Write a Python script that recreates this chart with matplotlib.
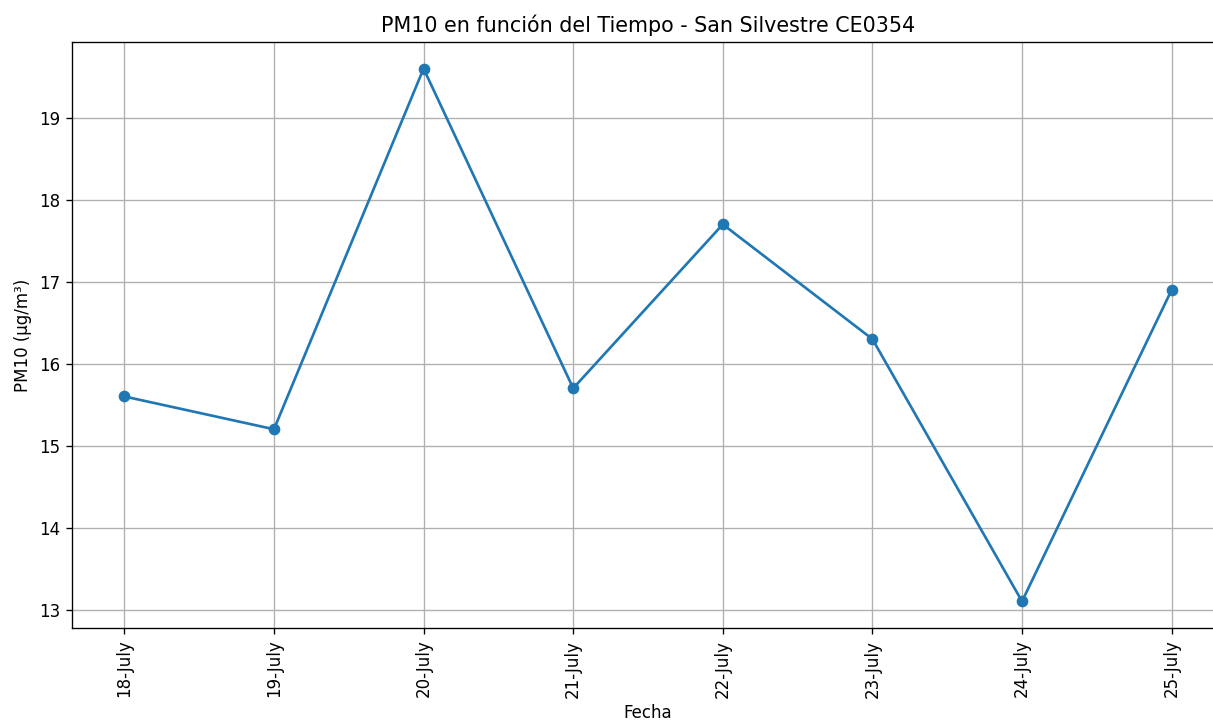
import matplotlib
matplotlib.use("Agg")
import matplotlib.pyplot as plt

fechas = ["18-July", "19-July", "20-July", "21-July", "22-July", "23-July", "24-July", "25-July"]
pm10 = [15.6, 15.2, 19.6, 15.7, 17.7, 16.3, 13.1, 16.9]

fig = plt.figure(figsize=(1213/120, 722/120), dpi=120)
ax = fig.add_axes([72/1213, (722-628)/722, (1224-72)/1213, (628-42)/722])
ax.plot(fechas, pm10, marker="o", color="#1f77b4", linewidth=1.6, markersize=6)
ax.set_title("PM10 en función del Tiempo - San Silvestre CE0354", fontsize=12.4)
ax.set_xlabel("Fecha")
ax.set_ylabel("PM10 (µg/m³)")
ax.tick_params(axis="x", rotation=90)
ax.grid(True)
fig.savefig("out.png", dpi=120)
